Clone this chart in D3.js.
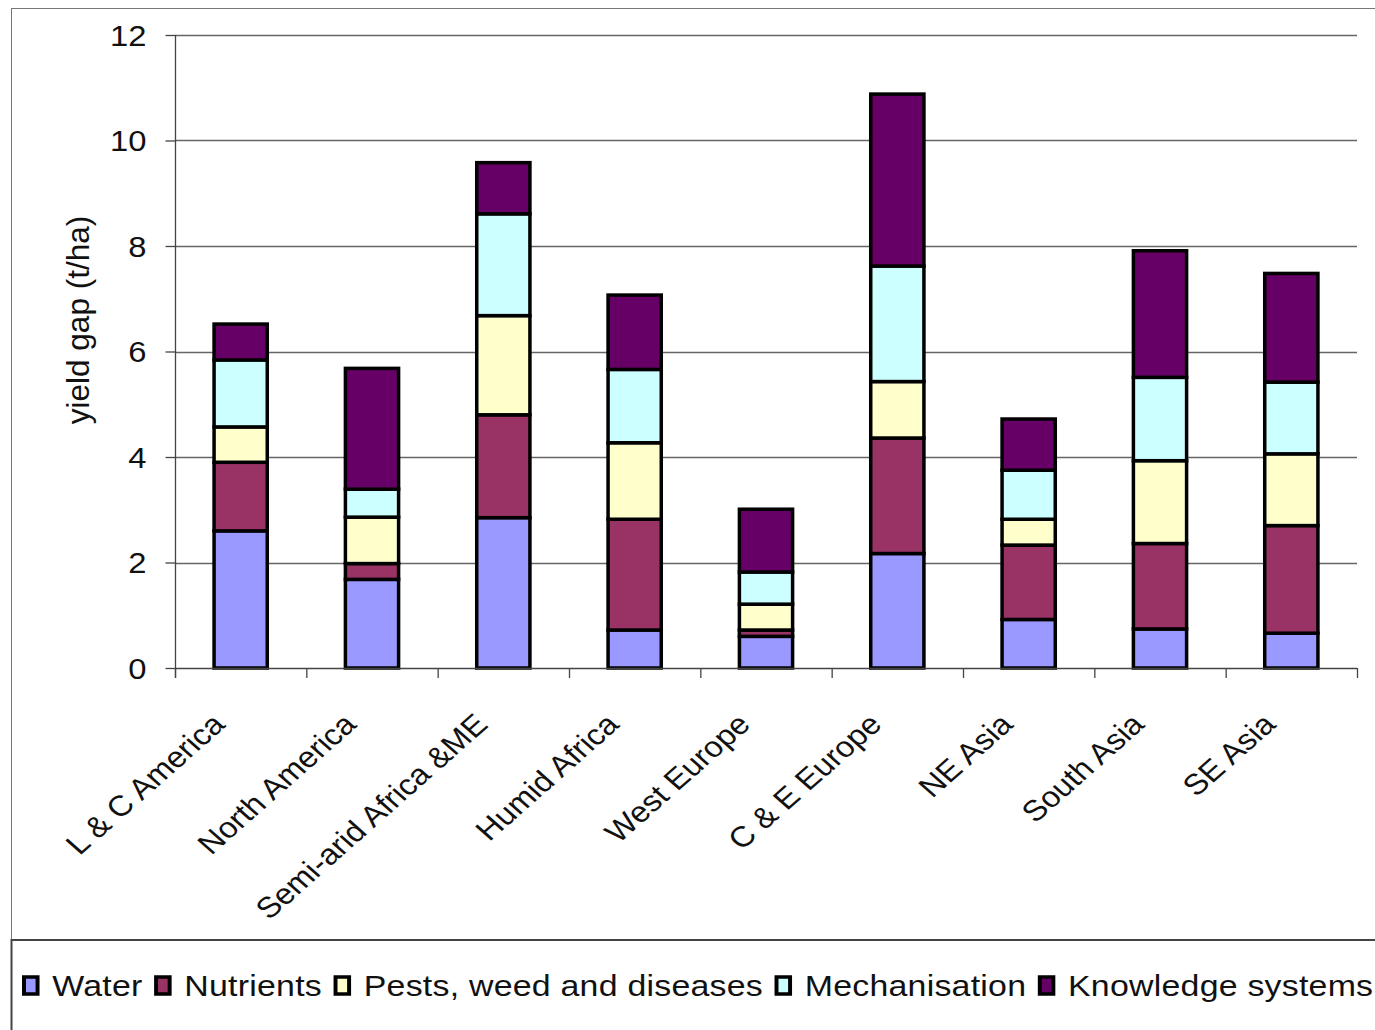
<!DOCTYPE html>
<html>
<head>
<meta charset="utf-8">
<script src="https://cdn.jsdelivr.net/npm/d3@7"></script>
<style>
  body { margin: 0; background: #fff; }
  svg text { font-family: "Liberation Sans", Arial, sans-serif; fill: #111; }
</style>
</head>
<body>
<div id="chart"></div>
<script>
// regions on the x axis
const regions = ['L & C America', 'North America', 'Semi-arid Africa &ME', 'Humid Africa',
  'West Europe', 'C & E Europe', 'NE Asia', 'South Asia', 'SE Asia'];

// yield gap per constraint (t/ha), stacked bottom to top
const water       = [2.60, 1.68, 2.85, 0.72, 0.60, 2.17, 0.92, 0.74, 0.66];
const nutrients   = [1.30, 0.30, 1.95, 2.10, 0.12, 2.19, 1.41, 1.62, 2.04];
const pests       = [0.67, 0.88, 1.88, 1.45, 0.49, 1.07, 0.49, 1.57, 1.36];
const mechanisation = [1.27, 0.53, 1.93, 1.39, 0.61, 2.19, 0.93, 1.58, 1.36];
const knowledge   = [0.68, 2.29, 0.97, 1.41, 1.19, 3.26, 0.97, 2.40, 2.06];

const seriesNames = ['Water', 'Nutrients', 'Pests, weed and diseases', 'Mechanisation', 'Knowledge systems'];
const seriesColors = ['#9999ff', '#993366', '#ffffcc', '#ccffff', '#660066'];
const yTicks = [0, 2, 4, 6, 8, 10, 12];

const W = 1375, H = 1030;
const stretch = 1.13;   // the original picture is a bit wider than tall
const svg = d3.select('#chart').append('svg').attr('width', W).attr('height', H);

// frames: chart area and legend area
svg.append('rect').attr('x', 11.5).attr('y', 8.5).attr('width', W).attr('height', 931)
  .attr('fill', 'none').attr('stroke', '#777').attr('stroke-width', 1);
svg.append('rect').attr('x', 11.5).attr('y', 940).attr('width', W).attr('height', 200)
  .attr('fill', 'none').attr('stroke', '#444').attr('stroke-width', 2);

const pLeft = 175, pRight = 1357, pTop = 35, pBottom = 668;

const x = d3.scaleBand().domain(regions).range([pLeft, pRight]).paddingInner(0.595).paddingOuter(0.2975);
const y = d3.scaleLinear().domain([0, 12]).range([pBottom, pTop]);

// gridlines
svg.append('g').selectAll('line').data(yTicks.filter(d => d > 0)).join('line')
  .attr('x1', pLeft).attr('x2', pRight)
  .attr('y1', d => Math.round(y(d)) + 0.5).attr('y2', d => Math.round(y(d)) + 0.5)
  .attr('stroke', '#666').attr('stroke-width', 1.3);

// stacked bars
const table = regions.map((r, i) => ({
  region: r, s0: water[i], s1: nutrients[i], s2: pests[i], s3: mechanisation[i], s4: knowledge[i]
}));
const stack = d3.stack().keys(['s0', 's1', 's2', 's3', 's4'])(table);

svg.append('g').selectAll('g').data(stack).join('g')
  .attr('fill', (d, i) => seriesColors[i])
  .selectAll('rect').data(d => d).join('rect')
  .attr('x', d => x(d.data.region))
  .attr('width', x.bandwidth())
  .attr('y', d => y(d[1]))
  .attr('height', d => y(d[0]) - y(d[1]))
  .attr('stroke', '#000').attr('stroke-width', 3.5);

// y axis
const yAxis = d3.axisLeft(y).tickValues(yTicks).tickSize(10);
const gy = svg.append('g').attr('transform', `translate(${pLeft + 0.5},0)`).call(yAxis);
gy.select('.domain').attr('d', `M0,${pTop}V${pBottom + 10}`).attr('stroke', '#444').attr('stroke-width', 1.3);
gy.selectAll('.tick line').attr('stroke', '#444').attr('stroke-width', 1.3);
gy.selectAll('.tick text')
  .attr('x', null).attr('dy', '0.36em')
  .attr('transform', `translate(-29,0) scale(${stretch},1)`)
  .attr('font-size', 29).attr('font-family', '"Liberation Sans", Arial, sans-serif')
  .attr('fill', '#111');

// x axis: baseline + ticks between categories
const gx = svg.append('g');
gx.append('line').attr('x1', pLeft).attr('x2', pRight).attr('y1', pBottom + 0.5).attr('y2', pBottom + 0.5)
  .attr('stroke', '#444').attr('stroke-width', 1.5);
const step = x.step();
gx.selectAll('line.tk').data(d3.range(regions.length + 1)).join('line').attr('class', 'tk')
  .attr('x1', i => pLeft + i * step + 0.5).attr('x2', i => pLeft + i * step + 0.5)
  .attr('y1', pBottom).attr('y2', pBottom + 10)
  .attr('stroke', '#444').attr('stroke-width', 1.3);
gx.selectAll('text').data(regions).join('text')
  .attr('transform', d => `translate(${x(d) + x.bandwidth() / 2 - 14},${pBottom + 58}) scale(${stretch},1) rotate(-45)`)
  .attr('text-anchor', 'end')
  .attr('font-size', 29)
  .text(d => d);

// y title
svg.append('text')
  .attr('transform', `translate(89,320) rotate(-90)`)
  .attr('text-anchor', 'middle')
  .attr('font-size', 31.5)
  .text('yield gap (t/ha)');

// legend
const legend = svg.append('g').attr('transform', `translate(24,985) scale(${stretch},1)`);
let lx = 0;
seriesNames.forEach((name, i) => {
  const g = legend.append('g').attr('transform', `translate(${lx},0)`);
  g.append('rect').attr('x', 0).attr('y', -8).attr('width', 12).attr('height', 17)
    .attr('fill', seriesColors[i]).attr('stroke', '#000').attr('stroke-width', 3.5);
  const t = g.append('text').attr('x', 25).attr('y', 11)
    .attr('font-size', 30).attr('letter-spacing', '0.2px').text(name);
  lx += 25 + t.node().getComputedTextLength() + 12;
});
</script>
</body>
</html>
